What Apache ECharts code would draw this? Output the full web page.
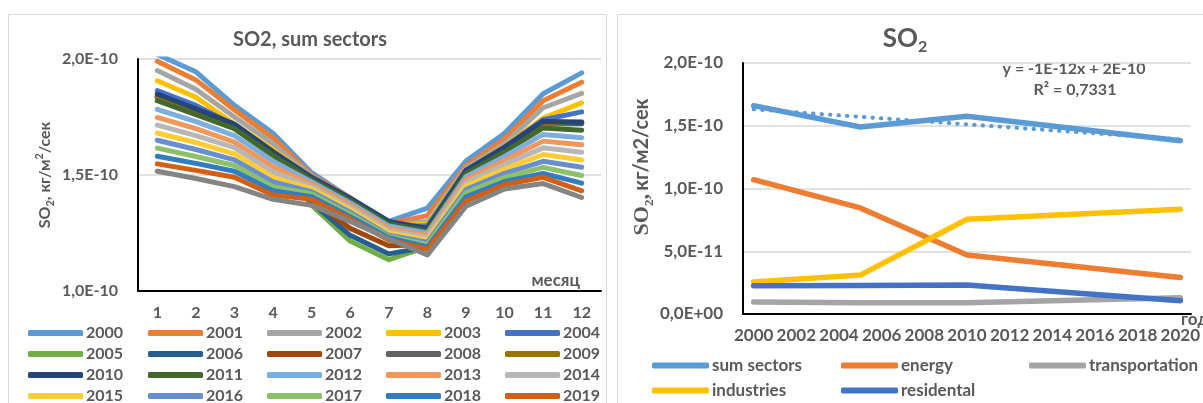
<!DOCTYPE html>
<html>
<head>
<meta charset="utf-8">
<script src="https://cdn.jsdelivr.net/npm/echarts@6/dist/echarts.min.js"></script>
<style>
html, body { margin: 0; padding: 0; background: #ffffff; }
#chart { width: 1203px; height: 403px; }
</style>
</head>
<body>
<div id="chart"></div>
<script>
// ---- Monthly SO2, sum of all sectors (values in units of 1e-10 kg/m²/s) ----
const months = ['1', '2', '3', '4', '5', '6', '7', '8', '9', '10', '11', '12'];
const so2_2000 = [2.02, 1.945, 1.80, 1.68, 1.51, 1.40, 1.30, 1.357, 1.56, 1.68, 1.85, 1.94];
const so2_2001 = [1.99, 1.91, 1.78, 1.66, 1.50, 1.40, 1.29, 1.325, 1.54, 1.655, 1.82, 1.90];
const so2_2002 = [1.95, 1.87, 1.75, 1.635, 1.495, 1.395, 1.285, 1.30, 1.53, 1.635, 1.79, 1.852];
const so2_2003 = [1.906, 1.835, 1.72, 1.61, 1.49, 1.39, 1.28, 1.29, 1.52, 1.625, 1.745, 1.811];
const so2_2004 = [1.864, 1.80, 1.715, 1.60, 1.49, 1.39, 1.28, 1.28, 1.52, 1.62, 1.738, 1.772];
const so2_2005 = [1.833, 1.77, 1.70, 1.58, 1.37, 1.215, 1.135, 1.19, 1.50, 1.60, 1.72, 1.72];
const so2_2006 = [1.838, 1.775, 1.705, 1.585, 1.38, 1.24, 1.16, 1.19, 1.505, 1.605, 1.725, 1.722];
const so2_2007 = [1.84, 1.778, 1.708, 1.59, 1.39, 1.27, 1.195, 1.20, 1.51, 1.61, 1.728, 1.725];
const so2_2008 = [1.836, 1.776, 1.706, 1.588, 1.40, 1.32, 1.24, 1.21, 1.508, 1.608, 1.726, 1.726];
const so2_2009 = [1.834, 1.774, 1.704, 1.586, 1.42, 1.35, 1.26, 1.22, 1.506, 1.606, 1.727, 1.729];
const so2_2010 = [1.849, 1.785, 1.72, 1.60, 1.49, 1.40, 1.30, 1.27, 1.52, 1.62, 1.732, 1.726];
const so2_2011 = [1.82, 1.76, 1.70, 1.585, 1.48, 1.39, 1.29, 1.26, 1.507, 1.60, 1.703, 1.693];
const so2_2012 = [1.783, 1.73, 1.67, 1.56, 1.47, 1.38, 1.28, 1.25, 1.493, 1.58, 1.675, 1.661];
const so2_2013 = [1.748, 1.70, 1.642, 1.535, 1.46, 1.37, 1.27, 1.24, 1.48, 1.562, 1.646, 1.63];
const so2_2014 = [1.715, 1.67, 1.618, 1.512, 1.45, 1.36, 1.26, 1.23, 1.467, 1.545, 1.617, 1.598];
const so2_2015 = [1.681, 1.64, 1.591, 1.49, 1.44, 1.35, 1.25, 1.22, 1.452, 1.526, 1.588, 1.565];
const so2_2016 = [1.65, 1.61, 1.565, 1.47, 1.428, 1.34, 1.24, 1.21, 1.437, 1.507, 1.559, 1.533];
const so2_2017 = [1.616, 1.58, 1.541, 1.45, 1.418, 1.33, 1.235, 1.20, 1.423, 1.49, 1.533, 1.498];
const so2_2018 = [1.581, 1.55, 1.516, 1.432, 1.406, 1.32, 1.23, 1.19, 1.406, 1.472, 1.507, 1.465];
const so2_2019 = [1.548, 1.52, 1.49, 1.414, 1.395, 1.31, 1.22, 1.18, 1.388, 1.458, 1.49, 1.432];
const so2_2020 = [1.516, 1.485, 1.45, 1.395, 1.37, 1.30, 1.225, 1.155, 1.365, 1.44, 1.463, 1.403];

const yearNames = ['2000', '2001', '2002', '2003', '2004', '2005', '2006', '2007', '2008', '2009', '2010',
  '2011', '2012', '2013', '2014', '2015', '2016', '2017', '2018', '2019', '2020'];
const monthlySeries = [so2_2000, so2_2001, so2_2002, so2_2003, so2_2004, so2_2005, so2_2006, so2_2007,
  so2_2008, so2_2009, so2_2010, so2_2011, so2_2012, so2_2013, so2_2014, so2_2015, so2_2016, so2_2017,
  so2_2018, so2_2019, so2_2020];

// ---- SO2 by sector for selected years (units of 1e-10 kg/m²/s) ----
const axisYears = ['2000', '2001', '2002', '2003', '2004', '2005', '2006', '2007', '2008', '2009', '2010',
  '2011', '2012', '2013', '2014', '2015', '2016', '2017', '2018', '2019', '2020'];
const sampleYears = ['2000', '2005', '2010', '2020'];
const sumSectors = [1.66, 1.49, 1.575, 1.38];
const energy = [1.07, 0.845, 0.47, 0.29];
const transportation = [0.095, 0.09, 0.09, 0.13];
const industries = [0.255, 0.31, 0.755, 0.835];
const residental = [0.225, 0.228, 0.232, 0.105];
const sectorNames = ['sum sectors', 'energy', 'transportation', 'industries', 'residental'];
const sectorValues = [sumSectors, energy, transportation, industries, residental];
const trendLabel = ['y = -1E-12x + 2E-10', 'R² = 0,7331'];

// ---- styling ----
const FONT = 'Lato';
const TEXT = '#595959';
const GRID_LINE = '#D9D9D9';
const yearColors = ['#5B9BD5', '#ED7D31', '#A5A5A5', '#FFC000', '#4472C4', '#70AD47',
  '#255E91', '#9E480E', '#636363', '#997300', '#264478', '#43682B',
  '#7CAFDD', '#F1975A', '#B7B7B7', '#FFCD33', '#698ED0', '#8CC168',
  '#327DC2', '#D36012', '#848484'];
const sectorColors = ['#5B9BD5', '#ED7D31', '#A5A5A5', '#FFC000', '#4472C4'];

const UNIT = 1e-10;
function sciLabel(v) {
  const x = v * UNIT;
  if (Math.abs(x) < 1e-30) return '0,0E+00';
  const parts = x.toExponential(1).split('e');
  const sign = parts[1][0] === '-' ? '-' : '+';
  const digits = parts[1].replace(/^[+-]/, '');
  return parts[0].replace('.', ',') + 'E' + sign + digits.padStart(2, '0');
}

// place each sampled year on the yearly category axis
function onYearAxis(values) {
  return axisYears.map(y => {
    const k = sampleYears.indexOf(y);
    return k >= 0 ? values[k] : null;
  });
}

// least-squares linear trend of the summed sectors over category index (1-based)
const xs = sampleYears.map(y => axisYears.indexOf(y) + 1);
const mx = xs.reduce((a, b) => a + b, 0) / xs.length;
const my = sumSectors.reduce((a, b) => a + b, 0) / sumSectors.length;
let sxy = 0, sxx = 0;
xs.forEach((x, i) => { sxy += (x - mx) * (sumSectors[i] - my); sxx += (x - mx) * (x - mx); });
const slope = sxy / sxx;
const intercept = my - slope * mx;
const trendData = axisYears.map((_, i) => intercept + slope * (i + 1));

const chart = echarts.init(document.getElementById('chart'), null, { renderer: 'canvas' });

const labelStyle = { fontFamily: FONT, fontWeight: 'bold', color: TEXT };

const series = [];
monthlySeries.forEach((data, i) => {
  series.push({
    name: yearNames[i], type: 'line', xAxisIndex: 0, yAxisIndex: 0,
    data: data, showSymbol: false, symbol: 'none', silent: true, animation: false,
    lineStyle: { width: 5, color: yearColors[i], cap: 'round', join: 'round' },
    itemStyle: { color: yearColors[i] }
  });
});
sectorValues.forEach((vals, i) => {
  series.push({
    name: sectorNames[i], type: 'line', xAxisIndex: 1, yAxisIndex: 1,
    data: onYearAxis(vals), connectNulls: true, showSymbol: false, symbol: 'none',
    silent: true, animation: false,
    lineStyle: { width: 5.5, color: sectorColors[i], cap: 'round', join: 'round' },
    itemStyle: { color: sectorColors[i] }
  });
});
series.push({
  name: 'trend', type: 'line', xAxisIndex: 1, yAxisIndex: 1, data: trendData,
  showSymbol: false, symbol: 'none', silent: true, animation: false,
  lineStyle: { width: 4, color: '#5B9BD5', type: [0.5, 8], cap: 'round' }
});

// one legend component per entry so the columns line up
const legends = [];
const leftCols = [28, 148, 267, 386, 505];
const leftRows = [333, 354, 375, 396, 417];
yearNames.forEach((n, i) => {
  legends.push({
    data: [n], left: leftCols[i % 5], top: leftRows[Math.floor(i / 5)] - 8,
    icon: 'roundRect', itemWidth: 55, itemHeight: 6, selectedMode: false,
    padding: 0, textStyle: Object.assign({ fontSize: 16, padding: [0, 0, 0, -2] }, labelStyle)
  });
});
const rightCols = [652, 841, 1029];
const rightRows = [365, 390];
sectorNames.forEach((n, i) => {
  legends.push({
    data: [n], left: rightCols[i % 3], top: rightRows[Math.floor(i / 3)] - 8,
    icon: 'roundRect', itemWidth: 57, itemHeight: 6, selectedMode: false,
    padding: 0, textStyle: Object.assign({ fontSize: 17, padding: [0, 0, 0, -2] }, labelStyle)
  });
});

const option = {
  backgroundColor: '#ffffff',
  animation: false,
  grid: [
    { left: 138, top: 59, width: 463, height: 232 },
    { left: 743, top: 63, width: 450, height: 251 }
  ],
  xAxis: [
    {
      gridIndex: 0, type: 'category', data: months, boundaryGap: true,
      axisLine: { lineStyle: { color: '#000000', width: 2 } },
      axisTick: { show: false },
      axisLabel: Object.assign({ fontSize: 16, margin: 14 }, labelStyle),
      splitLine: { show: false }
    },
    {
      gridIndex: 1, type: 'category', data: axisYears, boundaryGap: true,
      axisLine: { lineStyle: { color: '#000000', width: 2 } },
      axisTick: { show: false },
      axisLabel: Object.assign({ fontSize: 17, margin: 13, interval: 1 }, labelStyle),
      splitLine: { show: false }
    }
  ],
  yAxis: [
    {
      gridIndex: 0, type: 'value', min: 1, max: 2, interval: 0.5,
      axisLine: { show: true, lineStyle: { color: '#000000', width: 2 } },
      axisTick: { show: false },
      axisLabel: Object.assign({ fontSize: 16, margin: 20, formatter: sciLabel }, labelStyle),
      splitLine: { lineStyle: { color: GRID_LINE, width: 1.5 } }
    },
    {
      gridIndex: 1, type: 'value', min: 0, max: 2, interval: 0.5,
      axisLine: { show: true, lineStyle: { color: '#000000', width: 2 } },
      axisTick: { show: false },
      axisLabel: Object.assign({ fontSize: 17, margin: 20, formatter: sciLabel }, labelStyle),
      splitLine: { lineStyle: { color: GRID_LINE, width: 1.5 } }
    }
  ],
  legend: legends,
  series: series,
  graphic: [
    { type: 'rect', z: -1, shape: { x: 8.5, y: 14.5, width: 598, height: 420 },
      style: { fill: 'none', stroke: GRID_LINE, lineWidth: 1 } },
    { type: 'rect', z: -1, shape: { x: 617.5, y: 14.5, width: 620, height: 420 },
      style: { fill: 'none', stroke: GRID_LINE, lineWidth: 1 } },
    { type: 'text', x: 310, y: 40, style: { text: 'SO2, sum sectors', fill: TEXT,
      font: 'bold 20px ' + FONT, align: 'center', verticalAlign: 'middle' } },
    { type: 'text', x: 905, y: 39, style: {
      text: '{a|SO}{b|2}', align: 'center', verticalAlign: 'middle',
      rich: {
        a: { fontFamily: FONT, fontWeight: 'bold', fontSize: 26, lineHeight: 32, fill: TEXT, color: TEXT },
        b: { fontFamily: FONT, fontWeight: 'bold', fontSize: 16, lineHeight: 16, fill: TEXT, color: TEXT, verticalAlign: 'bottom' }
      } } },
    { type: 'text', x: 45, y: 175, rotation: Math.PI / 2, style: {
      text: '{n|SO}{sub|2}{n|, кг/м}{sup|2}{n|/сек}', align: 'center', verticalAlign: 'middle',
      rich: {
        n: { fontFamily: FONT, fontWeight: 'bold', fontSize: 16, lineHeight: 22, fill: TEXT, color: TEXT },
        sub: { fontFamily: FONT, fontWeight: 'bold', fontSize: 11, lineHeight: 11, fill: TEXT, color: TEXT, verticalAlign: 'bottom' },
        sup: { fontFamily: FONT, fontWeight: 'bold', fontSize: 11, lineHeight: 11, fill: TEXT, color: TEXT, verticalAlign: 'top' }
      } } },
    { type: 'text', x: 642, y: 167, rotation: Math.PI / 2, style: {
      text: '{s|SO}{sub|2}{s|,} {n|кг/м2/сек}', align: 'center', verticalAlign: 'middle',
      rich: {
        s: { fontFamily: 'Liberation Serif', fontWeight: 'bold', fontSize: 22, lineHeight: 28, fill: TEXT, color: TEXT },
        sub: { fontFamily: 'Liberation Serif', fontWeight: 'bold', fontSize: 13, lineHeight: 13, fill: TEXT, color: TEXT, verticalAlign: 'bottom' },
        n: { fontFamily: FONT, fontWeight: 'bold', fontSize: 20, lineHeight: 28, fill: TEXT, color: TEXT }
      } } },
    { type: 'text', x: 580, y: 281, style: { text: 'месяц', fill: TEXT,
      font: 'bold 17px ' + FONT, align: 'right', verticalAlign: 'middle' } },
    { type: 'text', x: 1181, y: 320, style: { text: 'год', fill: TEXT,
      font: 'bold 17px ' + FONT, align: 'left', verticalAlign: 'middle' } },
    { type: 'text', x: 1074, y: 69, style: { text: trendLabel[0], fill: TEXT,
      font: 'bold 16px ' + FONT, align: 'center', verticalAlign: 'middle' } },
    { type: 'text', x: 1075, y: 90, style: { text: trendLabel[1], fill: TEXT,
      font: 'bold 16px ' + FONT, align: 'center', verticalAlign: 'middle' } }
  ]
};

chart.setOption(option);
</script>
</body>
</html>
